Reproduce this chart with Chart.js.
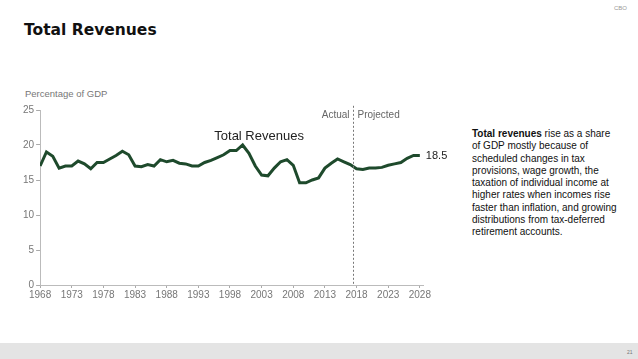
<!DOCTYPE html>
<html>
<head>
<meta charset="utf-8">
<script src="https://cdn.jsdelivr.net/npm/chart.js@4.4.1/dist/chart.umd.min.js"></script>
<style>
  html, body { margin: 0; padding: 0; background: #fff; }
  body { width: 638px; height: 359px; position: relative; overflow: hidden; font-family: "Liberation Sans", Arial, sans-serif; }
  #title { position: absolute; left: 24px; top: 21px; font: bold 15.5px "DejaVu Sans", sans-serif; color: #111; }
  #cbo { position: absolute; left: 614px; top: 5px; font-size: 6px; color: #999; }
  #unit { position: absolute; left: 25px; top: 88px; font: 9.5px "Liberation Sans", sans-serif; color: #777; }
  #note { position: absolute; left: 472px; top: 128px; font-size: 10px; line-height: 12.3px; color: #111; white-space: nowrap; }
  #footer { position: absolute; left: 0; top: 343px; width: 638px; height: 16px; background: #e4e4e4; }
  #page { position: absolute; left: 627px; top: 349px; font-size: 5px; color: #777; }
  #wrap { position: absolute; left: 0; top: 85px; width: 450px; height: 225px; }
</style>
</head>
<body>
<div id="title">Total Revenues</div>
<div id="cbo">CBO</div>
<div id="unit">Percentage of GDP</div>
<div id="note"><b>Total revenues</b> rise as a share<br>of GDP mostly because of<br>scheduled changes in tax<br>provisions, wage growth, the<br>taxation of individual income at<br>higher rates when incomes rise<br>faster than inflation, and growing<br>distributions from tax-deferred<br>retirement accounts.</div>
<div id="wrap"><canvas id="chart"></canvas></div>
<div id="footer"></div>
<div id="page">21</div>
<script>
// data
const firstYear = 1968
const revenues = [
  17.0, 19.0, 18.4, 16.7, 17.0, 17.0, 17.7, 17.3, 16.6, 17.5,
  17.5, 18.0, 18.5, 19.1, 18.6, 17.0, 16.9, 17.2, 17.0, 17.9,
  17.6, 17.8, 17.4, 17.3, 17.0, 17.0, 17.5, 17.8, 18.2, 18.6,
  19.2, 19.2, 20.0, 18.8, 17.0, 15.7, 15.6, 16.7, 17.6, 17.9,
  17.1, 14.6, 14.6, 15.0, 15.3, 16.7, 17.4, 18.0, 17.6, 17.2,
  16.6, 16.5, 16.7, 16.7, 16.8, 17.1, 17.3, 17.5, 18.1, 18.5,
  18.5
]
const years = revenues.map((v, i) => firstYear + i)
const tickYears = [1968, 1973, 1978, 1983, 1988, 1993, 1998, 2003, 2008, 2013, 2018, 2023, 2028]
const yTicks = [0, 5, 10, 15, 20, 25]
const splitYear = 2017.5

const axisFont = { family: "'Liberation Sans', Arial, sans-serif", size: 10 }

const annotations = {
  id: 'annotations',
  afterDraw(chart) {
    const { ctx, scales: { x, y } } = chart
    ctx.save()
    // actual / projected divider
    const sx = Math.round(x.getPixelForValue(splitYear)) + 0.5
    ctx.strokeStyle = '#777'
    ctx.lineWidth = 1
    ctx.setLineDash([2, 2])
    ctx.beginPath()
    ctx.moveTo(sx, y.getPixelForValue(25.6))
    ctx.lineTo(sx, y.getPixelForValue(0))
    ctx.stroke()
    ctx.setLineDash([])

    ctx.fillStyle = '#666'
    ctx.font = "10px 'Liberation Sans', Arial, sans-serif"
    ctx.textBaseline = 'middle'
    const ly = y.getPixelForValue(24.3)
    ctx.textAlign = 'right'
    ctx.fillText('Actual', sx - 4, ly)
    ctx.textAlign = 'left'
    ctx.fillText('Projected', sx + 4, ly)

    ctx.fillStyle = '#222'
    ctx.font = "13px 'Liberation Sans', Arial, sans-serif"
    ctx.textAlign = 'center'
    ctx.fillText('Total Revenues', x.getPixelForValue(2002.6), y.getPixelForValue(21.2))

    const last = revenues.length - 1
    ctx.textAlign = 'left'
    ctx.font = "11px 'Liberation Sans', Arial, sans-serif"
    ctx.fillText(revenues[last].toFixed(1), x.getPixelForValue(years[last]) + 6, y.getPixelForValue(revenues[last]))
    ctx.restore()
  }
}

new Chart(document.getElementById('chart'), {
  type: 'line',
  data: {
    datasets: [{
      label: 'Total Revenues',
      data: years.map((yr, i) => ({ x: yr, y: revenues[i] })),
      borderColor: '#1e4a2c',
      borderWidth: 3,
      pointRadius: 0,
      tension: 0,
      fill: false
    }]
  },
  options: {
    responsive: true,
    maintainAspectRatio: false,
    animation: false,
    layout: { padding: { left: 21, right: 27, top: 25, bottom: 8 } },
    plugins: { legend: { display: false }, tooltip: { enabled: false } },
    scales: {
      x: {
        type: 'linear',
        min: 1968,
        max: 2028.5,
        afterBuildTicks: s => { s.ticks = tickYears.map(v => ({ value: v })) },
        ticks: { color: '#777', font: axisFont, padding: 1, maxRotation: 0, callback: v => String(v) },
        grid: { display: true, drawOnChartArea: false, tickLength: 3, color: '#aaa' },
        border: { color: '#bbb' }
      },
      y: {
        min: 0,
        max: 25,
        afterBuildTicks: s => { s.ticks = yTicks.map(v => ({ value: v })) },
        ticks: { color: '#777', font: axisFont, padding: 2 },
        grid: { display: true, drawOnChartArea: false, tickLength: 4, color: '#aaa' },
        border: { color: '#bbb' }
      }
    }
  },
  plugins: [annotations]
})
</script>
</body>
</html>
